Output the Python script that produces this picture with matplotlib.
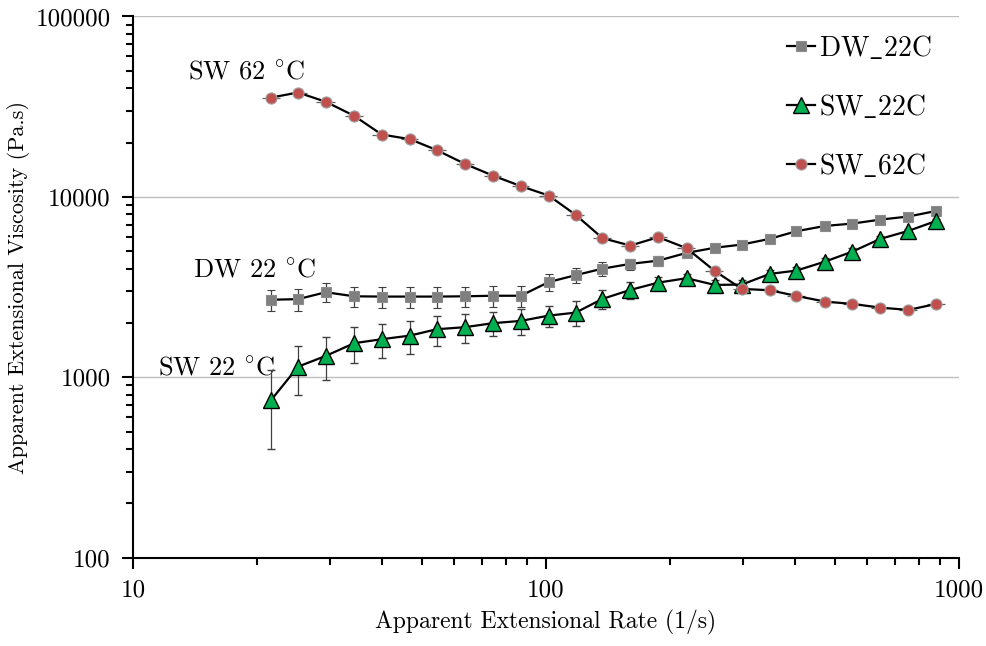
import numpy as np
import matplotlib.pyplot as plt
from matplotlib.lines import Line2D
from matplotlib.ticker import FixedLocator, NullFormatter, LogLocator

plt.rcParams['font.family'] = ['cmr10', 'DejaVu Serif']
plt.rcParams['mathtext.fontset'] = 'cm'
plt.rcParams['axes.formatter.use_mathtext'] = True

# apparent extensional rate (1/s)
rate = [21.6, 25.1, 29.3, 34.3, 40.0, 46.8, 54.4, 63.6, 74.3, 86.9, 101.5, 118,
        137, 160, 187, 219, 256, 298, 348, 404, 474, 552, 645, 754, 882]

dw_22 = [2690, 2710, 2960, 2810, 2800, 2800, 2800, 2810, 2830, 2830, 3370, 3680,
         4000, 4250, 4430, 4890, 5220, 5440, 5850, 6450, 6900, 7110, 7480, 7780, 8360]
dw_22_err = [370, 380, 360, 370, 370, 370, 370, 370, 370, 370, 380, 370,
             370, 300, 280, 250, 250, 250, 250, 250, 250, 250, 250, 250, 250]

sw_22 = [748, 1145, 1313, 1544, 1625, 1701, 1846, 1894, 1993, 2053, 2196, 2282,
         2718, 3049, 3347, 3540, 3251, 3263, 3740, 3902, 4377, 4973, 5849, 6476, 7360]
sw_22_err = [350, 350, 350, 350, 350, 350, 350, 350, 300, 330, 300, 360,
             330, 335, 250, 200, 200, 200, 200, 200, 200, 200, 200, 200, 200]

sw_62 = [35540, 37880, 33650, 28140, 22160, 20890, 18160, 15240, 13130, 11470, 10170, 7946,
         5902, 5370, 5977, 5194, 3887, 3088, 3037, 2824, 2626, 2550, 2432, 2362, 2550]
sw_62_xerr = [1.1, 1.3, 1.5, 1.7, 2.0, 2.3, 2.7, 3.2, 3.7, 4.3, 5.1, 5.9,
              6.9, 8.0, 9.4, 11, 13, 15, 17, 20, 24, 28, 32, 38, 44]

series_names = [r'DW$\_$22C', r'SW$\_$22C', r'SW$\_$62C']
x_ticks = [10, 100, 1000]
y_ticks = [100, 1000, 10000, 100000]

fig = plt.figure(figsize=(9.87, 6.46), dpi=100)
ax = fig.add_axes([0.1348, 0.1368, 0.8368, 0.8377])
ax.set_xscale('log')
ax.set_yscale('log')
ax.set_xlim(10, 1000)
ax.set_ylim(100, 100000)

ebar = dict(ecolor='#404040', elinewidth=0.9, capsize=3, capthick=0.9)
dw_style = dict(color='black', lw=1.6, marker='s', ms=7.5, mfc='#7f7f7f', mec='#8c8c8c', mew=0.8)
sw22_style = dict(color='black', lw=1.6, marker='^', ms=11, mfc='#00b050', mec='black', mew=1.0)
sw62_style = dict(color='black', lw=1.6, marker='o', ms=8, mfc='#c0504d', mec='#a0a0a0', mew=0.8)

ax.errorbar(rate, dw_22, yerr=dw_22_err, zorder=3, **dw_style, **ebar)
ax.errorbar(rate, sw_22, yerr=sw_22_err, zorder=4, **sw22_style, **ebar)
ax.errorbar(rate, sw_62, xerr=sw_62_xerr, ecolor='#606060', elinewidth=0.9, capsize=0,
            zorder=5, **sw62_style)

ax.grid(axis='y', which='major', color='#bfbfbf', lw=1)
ax.set_axisbelow(True)

for s in ['top', 'right']:
    ax.spines[s].set_visible(False)
ax.spines['left'].set_linewidth(1.5)
ax.spines['bottom'].set_linewidth(1.5)

ax.xaxis.set_major_locator(FixedLocator(x_ticks))
ax.set_xticklabels([str(t) for t in x_ticks])
ax.yaxis.set_major_locator(FixedLocator(y_ticks))
ax.set_yticklabels([str(t) for t in y_ticks])
ax.xaxis.set_minor_locator(LogLocator(base=10, subs=np.arange(2, 10)))
ax.yaxis.set_minor_locator(LogLocator(base=10, subs=np.arange(2, 10)))
ax.xaxis.set_minor_formatter(NullFormatter())
ax.yaxis.set_minor_formatter(NullFormatter())
ax.tick_params(which='major', direction='out', length=8, width=1.5, labelsize=18, pad=8)
ax.tick_params(which='minor', direction='out', length=5, width=1.5)

ax.set_xlabel('Apparent Extensional Rate (1/s)', fontsize=17, labelpad=6)
ax.set_ylabel('Apparent Extensional Viscosity (Pa.s)', fontsize=16, labelpad=4)

ax.text(13.6, 49300, r'SW 62 $^{\circ}\mathrm{C}$', fontsize=19, va='center', ha='left')
ax.text(14.0, 3940, r'DW 22 $^{\circ}\mathrm{C}$', fontsize=19, va='center', ha='left')
ax.text(11.5, 1126, r'SW 22 $^{\circ}\mathrm{C}$', fontsize=19, va='center', ha='left')

handles = [Line2D([], [], **dw_style), Line2D([], [], **sw22_style), Line2D([], [], **sw62_style)]
ax.legend(handles, series_names, loc='upper left', bbox_to_anchor=(0.792, 0.968),
          frameon=False, fontsize=20, handlelength=1.0, handletextpad=0.15,
          labelspacing=1.12, borderpad=0, borderaxespad=0)

fig.savefig('out.png', dpi=100)
